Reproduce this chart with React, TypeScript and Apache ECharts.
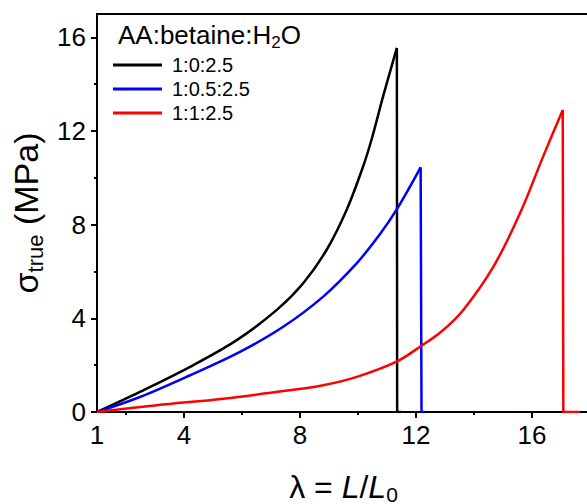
import React, { useEffect, useRef } from "react";
import * as echarts from "echarts";

// ---- data ----
const seriesNames = ["1:0:2.5", "1:0.5:2.5", "1:1:2.5"];
const seriesColors = ["#000000", "#0000ff", "#ff0000"];

// black 1:0:2.5 – loading curve, then fracture drop
const blackX = [1, 2.48, 4.21, 5.82, 7.2, 8.11, 8.92, 9.61, 10.18, 10.47, 10.87, 11.34];
const blackY = [0, 0.86, 1.93, 3.07, 4.36, 5.5, 6.93, 8.64, 10.5, 11.65, 13.5, 15.55];
const blackTailX = [11.35, 11.5];
const blackTailY = [0, 0];

// blue 1:0.5:2.5
const blueX = [1, 2.48, 4.21, 5.93, 7.42, 8.8, 9.96, 10.76, 11.33, 12.16];
const blueY = [0, 0.64, 1.57, 2.57, 3.64, 4.93, 6.36, 7.6, 8.64, 10.45];
const blueTailX = [12.19, 12.3];
const blueTailY = [0, 0];

// red 1:1:2.5
const redX = [1, 3.06, 5.36, 7.66, 8.8, 9.96, 11.33, 12.14, 12.89, 13.63, 14.67, 15.59, 16.39, 17.06];
const redY = [0, 0.29, 0.57, 0.93, 1.14, 1.5, 2.15, 2.79, 3.45, 4.36, 6.21, 8.5, 10.93, 12.9];
const redTailX = [17.08, 17.66];
const redTailY = [0, 0];

const xLabelValues = [1, 4, 8, 12, 16];
const xMajorTicks = [4, 8, 12, 16];
const xMinorTicks = [2, 6, 10, 14];
const yLabelValues = [0, 4, 8, 12, 16];
const yMajorTicks = [0, 4, 8, 12, 16];
const yMinorTicks = [2, 6, 10, 14];

const X_MIN = 1;
const X_MAX = 18;
const Y_MIN = 0;
const Y_MAX = 17;

const FONT = "'Liberation Sans', Arial, Helvetica, sans-serif";

function zip(xs: number[], ys: number[]) {
  return xs.map((x, i) => [x, ys[i]]);
}

export default function App() {
  const ref = useRef<HTMLDivElement>(null);

  useEffect(() => {
    document.body.style.margin = "0";
    if (!ref.current) return;
    const chart = echarts.init(ref.current, undefined, { renderer: "svg" });

    const curves = [
      { x: blackX, y: blackY, tx: blackTailX, ty: blackTailY },
      { x: blueX, y: blueY, tx: blueTailX, ty: blueTailY },
      { x: redX, y: redY, tx: redTailX, ty: redTailY },
    ];

    const series: any[] = [];
    curves.forEach((c, i) => {
      series.push({
        type: "line",
        name: seriesNames[i],
        data: zip(c.x, c.y),
        symbol: "none",
        showSymbol: false,
        smooth: 0.35,
        lineStyle: { color: seriesColors[i], width: 2.5 },
        itemStyle: { color: seriesColors[i] },
        xAxisIndex: 0,
        yAxisIndex: 0,
        z: 2 + i,
      });
      const last = c.x.length - 1;
      series.push({
        type: "line",
        name: seriesNames[i] + " fracture",
        data: [[c.x[last], c.y[last]], ...zip(c.tx, c.ty)],
        symbol: "none",
        showSymbol: false,
        smooth: false,
        lineStyle: { color: seriesColors[i], width: 2.5 },
        itemStyle: { color: seriesColors[i] },
        xAxisIndex: 0,
        yAxisIndex: 0,
        z: 2 + i,
      });
    });

    const axisLineStyle = { color: "#000", width: 2 };

    chart.setOption({
      animation: false,
      backgroundColor: "#ffffff",
      title: {
        text: "{a|AA:betaine:H}{s|2}{a|O}",
        left: 118,
        top: 18,
        padding: 0,
        textStyle: {
          rich: {
            a: { fontSize: 26, fontWeight: "normal", color: "#000", fontFamily: FONT },
            s: { fontSize: 17, fontWeight: "normal", color: "#000", fontFamily: FONT, padding: [16, 0, 0, 0] },
          },
        },
      },
      legend: {
        data: seriesNames,
        orient: "vertical",
        left: 113,
        top: 53,
        padding: 0,
        icon: "rect",
        itemWidth: 49,
        itemHeight: 3,
        itemGap: 0,
        textStyle: { fontSize: 20, lineHeight: 24, color: "#000", fontFamily: FONT, padding: [0, 0, 0, 5] },
      },
      grid: {
        left: 97,
        top: 14,
        width: 493,
        height: 398,
        outerBoundsMode: "none",
        containLabel: false,
        show: true,
        borderColor: "#000",
        borderWidth: 2,
        backgroundColor: "transparent",
      },
      xAxis: [
        {
          type: "value",
          min: X_MIN,
          max: X_MAX,
          position: "bottom",
          axisLine: { show: true, onZero: false, lineStyle: axisLineStyle },
          axisTick: { show: true, customValues: xMajorTicks, length: 6, inside: false, lineStyle: axisLineStyle },
          axisLabel: { customValues: xLabelValues, fontSize: 26, color: "#000", fontFamily: FONT, margin: 10 },
          splitLine: { show: false },
          name: "{a|λ = }{i|L}{a|/}{i|L}{s|0}",
          nameLocation: "middle",
          nameGap: 56,
          nameTextStyle: {
            rich: {
              a: { fontSize: 32, color: "#000", fontFamily: FONT },
              i: { fontSize: 32, color: "#000", fontFamily: FONT, fontStyle: "italic" },
              s: { fontSize: 21, color: "#000", fontFamily: FONT, padding: [16, 0, 0, 0] },
            },
          },
        },
        {
          type: "value",
          min: X_MIN,
          max: X_MAX,
          position: "bottom",
          axisLine: { show: false, onZero: false },
          axisTick: { show: true, customValues: xMinorTicks, length: 3, inside: false, lineStyle: axisLineStyle },
          axisLabel: { show: false },
          splitLine: { show: false },
        },
      ],
      yAxis: [
        {
          type: "value",
          min: Y_MIN,
          max: Y_MAX,
          position: "left",
          axisLine: { show: true, onZero: false, lineStyle: axisLineStyle },
          axisTick: { show: true, customValues: yMajorTicks, length: 6, inside: false, lineStyle: axisLineStyle },
          axisLabel: { customValues: yLabelValues, fontSize: 26, color: "#000", fontFamily: FONT, margin: 11 },
          splitLine: { show: false },
          name: "{a|σ}{s|true}{a| (MPa)}",
          nameLocation: "middle",
          nameGap: 40,
          nameRotate: 90,
          nameTextStyle: {
            rich: {
              a: { fontSize: 34, color: "#000", fontFamily: FONT },
              s: { fontSize: 22, color: "#000", fontFamily: FONT, padding: [19, 0, 0, 0] },
            },
          },
        },
        {
          type: "value",
          min: Y_MIN,
          max: Y_MAX,
          position: "left",
          axisLine: { show: false, onZero: false },
          axisTick: { show: true, customValues: yMinorTicks, length: 3, inside: false, lineStyle: axisLineStyle },
          axisLabel: { show: false },
          splitLine: { show: false },
        },
      ],
      series,
    });

    return () => {
      chart.dispose();
    };
  }, []);

  return <div ref={ref} style={{ width: 587, height: 504 }} />;
}
